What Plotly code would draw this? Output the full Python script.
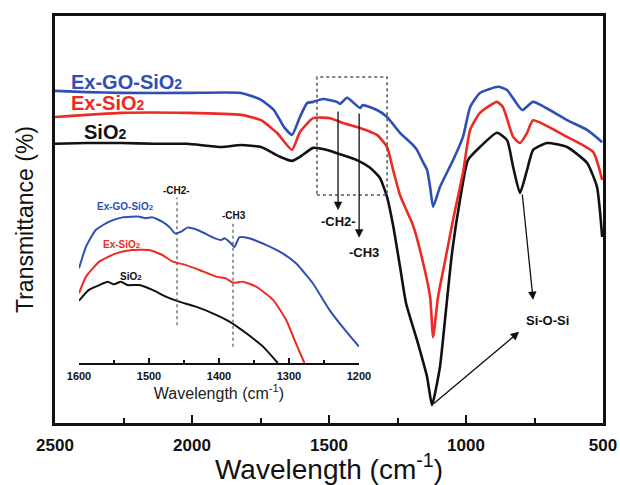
import plotly.graph_objects as go

# ---------------- main spectrum data (wavenumber cm-1, transmittance a.u.) ----------------
blue_wn = [2500, 2383, 2259, 2018, 1821, 1748, 1701, 1664, 1635, 1606, 1580, 1558, 1522, 1471, 1460,
           1434, 1387, 1376, 1325, 1288, 1241, 1193, 1179, 1157, 1142, 1131, 1120, 1095, 1047, 1011,
           985, 949, 883, 850, 795, 755, 631, 558, 503]
blue_t = [81.6, 81.3, 81.1, 81.1, 81.1, 79.4, 76.9, 72.7, 70.8, 75.2, 78.6, 78.9, 79.6, 78.9, 78.4,
          79.9, 77.4, 78.1, 76.9, 75.2, 71.3, 68.3, 67.1, 64.1, 62.2, 58.0, 53.1, 58.0, 64.6, 70.3,
          77.6, 81.1, 82.6, 81.8, 76.9, 78.9, 74.4, 72.0, 69.0]

red_wn = [2500, 2259, 2018, 1821, 1748, 1690, 1635, 1606, 1558, 1496, 1449, 1387, 1325, 1288, 1266,
          1241, 1193, 1157, 1131, 1120, 1102, 1073, 1047, 1011, 985, 949, 887, 865, 828, 803,
          777, 755, 631, 536, 503]
red_t = [75.2, 76.2, 76.2, 75.7, 74.4, 71.3, 67.1, 71.5, 74.9, 74.9, 73.7, 72.5, 70.8, 67.8, 62.2,
         56.0, 48.5, 39.5, 31.0, 21.1, 31.0, 41.0, 50.0, 61.5, 72.0, 76.2, 78.9, 77.6, 70.3, 68.8,
         71.3, 74.4, 70.3, 66.6, 59.7]

black_wn = [2500, 2383, 2259, 2139, 2018, 1894, 1821, 1748, 1679, 1635, 1606, 1558, 1522, 1471, 1398,
            1350, 1314, 1288, 1266, 1241, 1219, 1179, 1142, 1124, 1095, 1073, 1051, 1022, 993, 949,
            887, 850, 828, 803, 777, 755, 704, 631, 558, 522, 503]
black_t = [68.6, 68.8, 68.8, 68.6, 68.6, 67.8, 68.3, 67.8, 65.4, 64.4, 65.4, 67.6, 67.3, 66.3, 64.6,
           62.7, 60.2, 55.5, 48.5, 38.5, 29.5, 20.4, 11.3, 4.4, 13.8, 27.8, 41.8, 54.8, 64.6, 67.8,
           71.3, 69.5, 62.9, 56.5, 62.2, 67.1, 68.8, 67.8, 63.9, 58.0, 45.7]

# ---------------- inset data (1600-1200 cm-1) ----------------
in_blue_wn = [1600, 1590, 1576, 1557, 1538, 1514, 1505, 1495, 1481, 1469, 1463, 1454, 1445, 1428,
              1409, 1397, 1392, 1383, 1378, 1371, 1357, 1333, 1309, 1290, 1266, 1242, 1218, 1200]
in_blue_t = [52.6, 64.6, 73.9, 78.5, 80.9, 81.3, 80.4, 80.9, 78.5, 74.8, 72.0, 73.0, 75.2, 73.5,
             69.8, 68.3, 69.3, 66.5, 64.3, 69.8, 69.3, 65.6, 60.9, 55.4, 44.3, 29.4, 17.4, 9.1]

in_red_wn = [1600, 1590, 1571, 1547, 1524, 1500, 1481, 1466, 1447, 1428, 1404, 1390, 1380, 1366,
             1347, 1323, 1304, 1290, 1278]
in_red_t = [38.7, 48.0, 56.3, 60.9, 62.8, 62.8, 60.0, 56.3, 54.4, 51.7, 48.0, 47.0, 44.6, 45.2,
            42.4, 35.2, 23.9, 10.9, 0.0]

in_black_wn = [1600, 1586, 1571, 1559, 1550, 1540, 1531, 1514, 1495, 1476, 1457, 1433, 1409, 1385,
               1361, 1337, 1316]
in_black_t = [34.6, 40.6, 43.3, 45.2, 43.7, 45.2, 43.3, 43.3, 40.6, 36.9, 34.1, 31.3, 27.6, 23.0,
              16.5, 9.1, 0.0]

x_ticks = [2500, 2000, 1500, 1000, 500]
inset_ticks = [1600, 1500, 1400, 1300, 1200]

BLUE = "#2f4fb5"
RED = "#ee2a24"
BLACK = "#111111"
FONT = "Liberation Sans, Arial, sans-serif"

fig = go.Figure()
for wn, t, c in [(black_wn, black_t, BLACK), (red_wn, red_t, RED), (blue_wn, blue_t, BLUE)]:
    fig.add_trace(go.Scatter(x=wn, y=t, mode="lines", line=dict(color=c, width=2.6, shape="spline", smoothing=0.5),
                             xaxis="x", yaxis="y", showlegend=False, hoverinfo="skip"))
for wn, t, c in [(in_black_wn, in_black_t, BLACK), (in_red_wn, in_red_t, RED), (in_blue_wn, in_blue_t, BLUE)]:
    fig.add_trace(go.Scatter(x=wn, y=t, mode="lines", line=dict(color=c, width=2.0, shape="spline", smoothing=0.5),
                             xaxis="x2", yaxis="y2", showlegend=False, hoverinfo="skip"))

fig.update_layout(
    width=620, height=485,
    margin=dict(l=55, r=17, t=16, b=62),
    paper_bgcolor="white", plot_bgcolor="white",
    font=dict(family=FONT, color=BLACK),
    xaxis=dict(range=[2500, 500], domain=[0, 1], tickvals=x_ticks, automargin=False,
               ticks="inside", ticklen=8, tickwidth=2, tickcolor=BLACK,
               minor=dict(ticks="inside", ticklen=5, tickwidth=2, dtick=250, tick0=500, tickcolor=BLACK),
               showline=True, linewidth=2.5, linecolor=BLACK, mirror=True, showgrid=False, zeroline=False,
               tickfont=dict(size=17, weight="bold", color=BLACK), ticklabelstandoff=5,
               title=dict(text="Wavelength (cm<sup>-1</sup>)", font=dict(size=28, color=BLACK), standoff=9)),
    yaxis=dict(range=[0, 100], domain=[0, 1], showticklabels=False, ticks="", automargin=False,
               showline=True, linewidth=2.5, linecolor=BLACK, mirror=True, showgrid=False, zeroline=False,
               title=dict(text="Transmittance (%)", font=dict(size=23, color=BLACK), standoff=13)),
    xaxis2=dict(range=[1600, 1200], domain=[0.0438, 0.5547], anchor="y2", tickvals=inset_ticks, automargin=False,
                ticks="inside", ticklen=5, tickwidth=1.5, tickcolor=BLACK,
                minor=dict(ticks="inside", ticklen=3, tickwidth=1.5, dtick=50, tick0=1200, tickcolor=BLACK),
                showline=True, linewidth=1.6, linecolor=BLACK, showgrid=False, zeroline=False,
                tickfont=dict(size=11, weight="bold", color=BLACK), ticklabelstandoff=2,
                title=dict(text="Wavelength (cm<sup>-1</sup>)", font=dict(size=16, color="#222"), standoff=2)),
    yaxis2=dict(range=[0, 100], domain=[0.1474, 0.5897], anchor="x2", visible=False),
)

# dotted box and arrows in main plot
fig.add_shape(type="rect", xref="x", yref="y", x0=1544, x1=1288, y0=56.0, y1=85.0,
              line=dict(color="#555", width=1.5, dash="dot"))
# inset dotted lines
fig.add_shape(type="line", xref="x2", yref="y2", x0=1460, x1=1460, y0=21, y1=92,
              line=dict(color="#555", width=1.2, dash="dot"))
fig.add_shape(type="line", xref="x2", yref="y2", x0=1380, x1=1380, y0=9, y1=78,
              line=dict(color="#555", width=1.2, dash="dot"))

ann = []
def arrow(x, y, ax, ay):
    ann.append(dict(x=x, y=y, ax=ax, ay=ay, xref="x", yref="y", axref="x", ayref="y", text="",
                    showarrow=True, arrowhead=2, arrowsize=1.3, arrowwidth=1.3, arrowcolor=BLACK))
arrow(1467, 52.3, 1467, 76.9)
arrow(1390, 45.5, 1390, 76.4)
arrow(755, 30.2, 795, 56.5)
arrow(806, 22.4, 1124, 4.4)

def text(x, y, s, size, color=BLACK, xref="x", yref="y", xanchor="center", bold=True):
    ann.append(dict(x=x, y=y, xref=xref, yref=yref, text=s, showarrow=False, xanchor=xanchor, yanchor="middle",
                    font=dict(size=size, color=color, family=FONT, weight="bold" if bold else "normal")))

text(1467, 49.4, "-CH2-", 13)
text(1372, 42.0, "-CH3", 13)
text(701, 25.3, "Si-O-Si", 13)

sub = "<span style='font-size:{}px'>2</span>"
text(2449, 83.8, "Ex-GO-SiO" + sub.format(14), 20, BLUE, xanchor="left")
text(2449, 78.6, "Ex-SiO" + sub.format(14), 20, RED, xanchor="left")
text(2401, 71.5, "SiO" + sub.format(14), 20, BLACK, xanchor="left")

# inset labels
text(1533, 86.7, "Ex-GO-SiO" + sub.format(8), 10, BLUE, xref="x2", yref="y2")
text(1538, 65.6, "Ex-SiO" + sub.format(8), 10, RED, xref="x2", yref="y2")
text(1526, 48.3, "SiO" + sub.format(8), 10, BLACK, xref="x2", yref="y2")
text(1460, 96, "-CH2-", 10, xref="x2", yref="y2")
text(1378, 82, "-CH3", 10, xref="x2", yref="y2")

fig.update_layout(annotations=ann)
fig.write_html("out.html")
